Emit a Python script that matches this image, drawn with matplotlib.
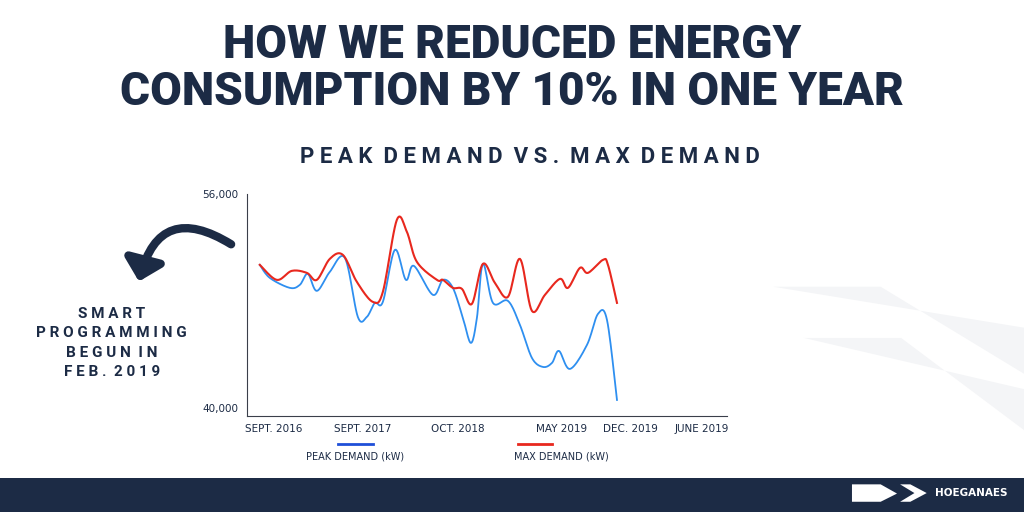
import numpy as np
import matplotlib.pyplot as plt
from matplotlib.patches import Rectangle, Polygon, FancyArrowPatch

NAVY = "#1c2b45"

# x positions on the time axis (label slots map to the six tick labels)
tick_labels = ["SEPT. 2016", "SEPT. 2017", "OCT. 2018", "MAY 2019", "DEC. 2019", "JUNE 2019"]
tick_pos = [27, 116, 211, 315, 383, 455]

max_x = [13, 30, 45, 60, 70, 83, 96, 110, 126, 136, 150, 160, 170, 190, 196, 206,
         215, 225, 236, 248, 261, 273, 285, 298, 313, 321, 333, 341, 356, 361, 370]
max_kw = [50691, 49570, 50243, 50093, 49570, 51140, 51439, 49420, 47925, 48673, 54056,
          53159, 50916, 49570, 49570, 48972, 48897, 47775, 50766, 49345, 48299, 51140,
          47252, 48449, 49645, 48972, 50467, 50093, 51065, 50691, 47850]

peak_x = [13, 23, 43, 53, 61, 70, 83, 98, 111, 120, 128, 136, 148, 159, 167, 186, 196,
          206, 216, 224, 230, 236, 246, 261, 273, 285, 296, 305, 312, 323, 340, 351, 360, 370]
peak_kw = [50691, 49719, 48972, 49196, 50019, 48747, 50168, 51215, 46803, 46803, 47850,
           47925, 51813, 49570, 50617, 48449, 49570, 48972, 46728, 44859, 46728, 50766,
           47850, 48000, 46205, 43738, 43065, 43364, 44262, 42916, 44710, 47028, 46579, 40598]


def smooth(x, y, n=12):
    # catmull-rom curve through the points, for a spline-like look
    x = np.asarray(x, float)
    y = np.asarray(y, float)
    px = np.concatenate([[x[0]], x, [x[-1]]])
    py = np.concatenate([[y[0]], y, [y[-1]]])
    t = np.linspace(0, 1, n, endpoint=False)[:, None]
    out_x, out_y = [], []
    for i in range(1, len(px) - 2):
        for arr, out in ((px, out_x), (py, out_y)):
            p0, p1, p2, p3 = arr[i - 1], arr[i], arr[i + 1], arr[i + 2]
            v = 0.5 * (2 * p1 + (p2 - p0) * t + (2 * p0 - 5 * p1 + 4 * p2 - p3) * t ** 2
                       + (3 * p1 - p0 - 3 * p2 + p3) * t ** 3)
            out.extend(v.ravel())
    out_x.append(x[-1])
    out_y.append(y[-1])
    return out_x, out_y


fig = plt.figure(figsize=(10.24, 5.12), dpi=100)
fig.patch.set_facecolor("white")

# background decoration
for pts in ([(0.755, 0.44), (0.86, 0.44), (1.0, 0.27), (1.0, 0.36)],
            [(0.785, 0.34), (0.88, 0.34), (1.0, 0.16), (1.0, 0.24)]):
    fig.patches.append(Polygon(pts, closed=True, transform=fig.transFigure,
                               facecolor="#f4f5f7", edgecolor="none", zorder=0))
fig.patches.append(Rectangle((0, 0), 1, 34 / 512, transform=fig.transFigure,
                             facecolor=NAVY, edgecolor="none", zorder=1))
# logo chevrons
fig.patches.append(Polygon([(0.832, 0.02), (0.86, 0.02), (0.876, 0.036), (0.86, 0.054), (0.832, 0.054)],
                           transform=fig.transFigure, facecolor="white", edgecolor="none", zorder=2))
fig.patches.append(Polygon([(0.879, 0.02), (0.889, 0.02), (0.905, 0.037), (0.889, 0.054), (0.879, 0.054), (0.893, 0.037)],
                           transform=fig.transFigure, facecolor="white", edgecolor="none", zorder=2))

fig.text(0.5, 0.866, "HOW WE REDUCED ENERGY\nCONSUMPTION BY 10% IN ONE YEAR",
         ha="center", va="center", fontsize=33, fontweight="heavy", family="Roboto",
         color=NAVY, linespacing=1.07)
fig.text(0.518, 0.693, "P E A K  D E M A N D  V S .  M A X  D E M A N D",
         ha="center", va="center", fontsize=16, fontweight="bold", family="Roboto", color=NAVY)
fig.text(0.109, 0.33, "S M A R T\nP R O G R A M M I N G\nB E G U N  I N\nF E B .  2 0 1 9",
         ha="center", va="center", fontsize=11, fontweight="bold", family="Roboto",
         color=NAVY, linespacing=1.5)
fig.patches.append(FancyArrowPatch((0.228, 0.52), (0.135, 0.445), transform=fig.transFigure,
                                   connectionstyle="arc3,rad=0.7", arrowstyle="-|>,head_width=6,head_length=6",
                                   mutation_scale=2, linewidth=6, color=NAVY))
fig.text(0.913, 0.037, "HOEGANAES", ha="left", va="center", fontsize=7.5,
         fontweight="bold", color="white")

ax = fig.add_axes([0.241, 0.1875, 0.469, 0.434])
ax.plot(*smooth(peak_x, peak_kw), color="#2e8ff0", lw=1.3)
ax.plot(*smooth(max_x, max_kw), color="#e8281e", lw=1.5)
ax.set_xlim(0, 480)
ax.set_ylim(39400, 56000)
ax.set_yticks([40000, 56000])
ax.set_yticklabels(["40,000", "56,000"])
ax.set_xticks(tick_pos)
ax.set_xticklabels(tick_labels)
ax.tick_params(length=0, labelsize=7.5, colors=NAVY, pad=6)
for s in ("top", "right"):
    ax.spines[s].set_visible(False)
for s in ("left", "bottom"):
    ax.spines[s].set_color("#3a3f4a")

# legend
fig.add_artist(plt.Line2D([0.330, 0.364], [0.133, 0.133], color="#1f4fd8", lw=2))
fig.add_artist(plt.Line2D([0.506, 0.539], [0.133, 0.133], color="#e8281e", lw=2))
fig.text(0.347, 0.109, "PEAK DEMAND (kW)", ha="center", va="center", fontsize=7, color=NAVY)
fig.text(0.548, 0.109, "MAX DEMAND (kW)", ha="center", va="center", fontsize=7, color=NAVY)

fig.savefig("out.png", dpi=100)
